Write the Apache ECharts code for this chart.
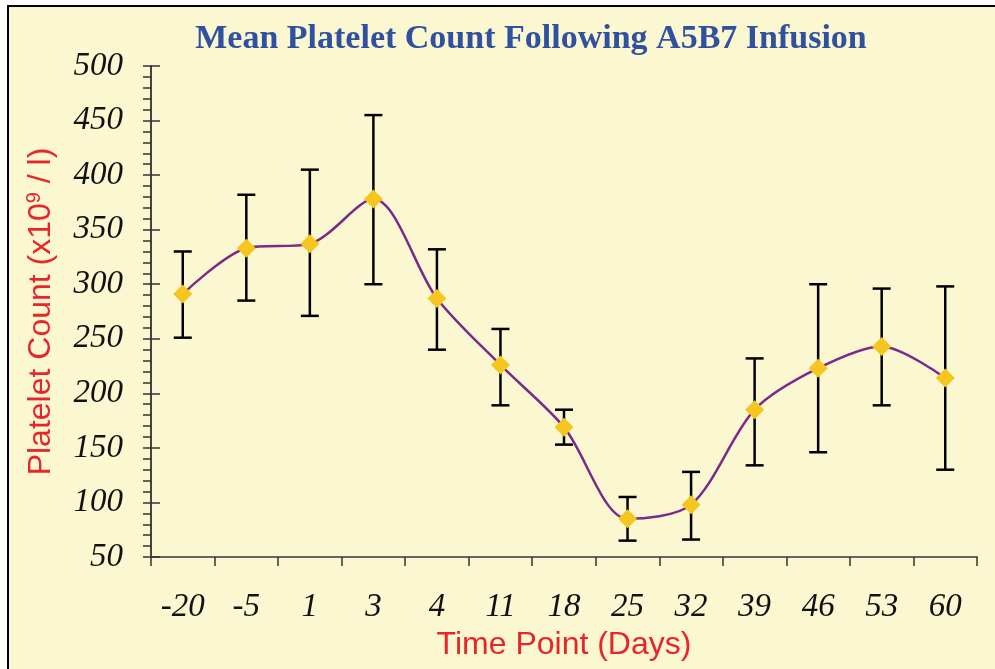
<!DOCTYPE html>
<html><head><meta charset="utf-8">
<script src="https://cdn.jsdelivr.net/npm/echarts@6/dist/echarts.min.js"></script>
<style>html,body{margin:0;padding:0;background:#fff;}#c{width:995px;height:669px;}</style>
</head><body><div id="c"></div>
<script>
const categories = ['-20','-5','1','3','4','11','18','25','32','39','46','53','60'];
const meanValues = [291, 333, 337, 378, 287, 226, 169, 85, 98, 185, 223, 243, 214];
const upperValues = [330, 382, 405, 455, 332, 259, 185, 105, 128, 232, 300, 296, 298];
const lowerValues = [251, 285, 271, 300, 240, 189, 153, 65, 66, 134, 146, 189, 130];
const yTicks = [50, 500, 50];

const chart = echarts.init(document.getElementById('c'), null, {renderer:'canvas'});
const serif = "'Liberation Serif','Times New Roman',serif";
const sans = "'Liberation Sans',Arial,sans-serif";
const errData = categories.map((c,i)=>[i, lowerValues[i], upperValues[i]]);
const axisY = {
  type:'value', min:yTicks[0], max:yTicks[1], interval:yTicks[2],
  position:'left', offset:0,
  splitLine:{show:false}
};
chart.setOption({
  backgroundColor:'#ffffff',
  animation:false,
  graphic:[{type:'rect', z:-10, silent:true, shape:{x:8,y:6,width:1100,height:800},
    style:{fill:'#FBF7D1', stroke:'#000', lineWidth:2}}],
  title:{text:'Mean Platelet Count Following A5B7 Infusion', left:526, textAlign:'center', top:17,
    textStyle:{fontFamily:serif, fontWeight:'bold', fontSize:34, color:'#3050A0'}},
  grid:{left:151, right:18, top:66, bottom:112},
  xAxis:{type:'category', data:categories, boundaryGap:true,
    axisLine:{lineStyle:{color:'#666', width:2}},
    axisTick:{show:true, alignWithLabel:false, length:9, lineStyle:{color:'#333', width:1.5}},
    axisLabel:{fontFamily:serif, fontStyle:'italic', fontSize:33, color:'#111', margin:34},
    name:'Time Point (Days)', nameLocation:'middle', nameGap:70,
    nameTextStyle:{fontFamily:sans, fontSize:32, color:'#E8262A'}},
  yAxis:[Object.assign({}, axisY, {
    axisLine:{show:true, lineStyle:{color:'#444', width:2}},
    axisTick:{show:true, length:8, lineStyle:{color:'#333', width:1.5}},
    minorTick:{show:true, splitNumber:5, length:8, lineStyle:{color:'#333', width:1.5}},
    axisLabel:{fontFamily:serif, fontStyle:'italic', fontSize:33, color:'#111', margin:28},
    name:'{a|Platelet Count (x10}{s|9}{a| / l)}', nameLocation:'middle', nameGap:93,
    nameTextStyle:{rich:{a:{fontFamily:sans, fontSize:32, color:'#E8262A'}, s:{fontFamily:sans, fontSize:20, color:'#E8262A', verticalAlign:'top', padding:[0,0,14,0]}}}
  }), Object.assign({}, axisY, {
    axisLine:{show:false},
    axisTick:{show:true, inside:true, length:9, lineStyle:{color:'#333', width:1.5}},
    axisLabel:{show:false}
  })],
  series:[{
    type:'custom', z:2, data:errData,
    renderItem:function(params, api){
      const x = api.value(0);
      const lo = api.coord([x, api.value(1)]);
      const hi = api.coord([x, api.value(2)]);
      const w = 9;
      const st = {stroke:'#000', lineWidth:2.5};
      return {type:'group', children:[
        {type:'line', shape:{x1:hi[0], y1:hi[1], x2:lo[0], y2:lo[1]}, style:st},
        {type:'line', shape:{x1:hi[0]-w, y1:hi[1], x2:hi[0]+w, y2:hi[1]}, style:st},
        {type:'line', shape:{x1:lo[0]-w, y1:lo[1], x2:lo[0]+w, y2:lo[1]}, style:st}
      ]};
    }
  },{
    type:'line', z:3, data:meanValues, smooth:0.3,
    symbol:'diamond', symbolSize:19,
    lineStyle:{color:'#7B2A87', width:2.5},
    itemStyle:{color:'#F5C520', borderWidth:0}
  }]
});
</script></body></html>
